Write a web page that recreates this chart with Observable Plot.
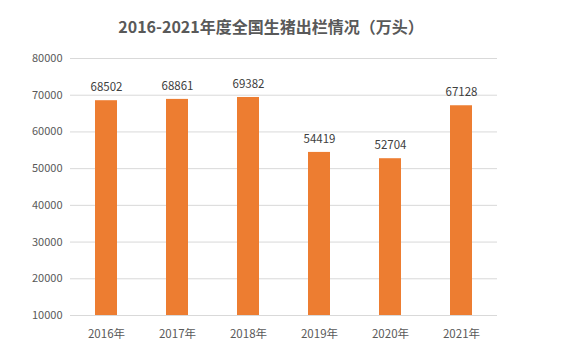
<!DOCTYPE html>
<html>
<head>
<meta charset="utf-8">
<script src="https://cdn.jsdelivr.net/npm/d3@7"></script>
<script src="https://cdn.jsdelivr.net/npm/@observablehq/plot@0.6"></script>
<style>
  html, body { margin: 0; padding: 0; background: #fff; }
  #wrap { position: relative; width: 569px; height: 352px; overflow: hidden; }
  #title { position: absolute; left: 0; width: 542px; top: 15px; text-align: center;
    font-family: "Noto Sans CJK SC", "Noto Sans", sans-serif; font-weight: bold; font-size: 16px; color: #595959; line-height: 22px; }
  svg { font-family: "Noto Sans CJK SC", "Noto Sans", sans-serif; }
</style>
</head>
<body>
<div id="wrap">
  <div id="title">2016-2021年度全国生猪出栏情况（万头）</div>
  <div id="chart"></div>
</div>
<script>
const years = ["2016年", "2017年", "2018年", "2019年", "2020年", "2021年"];
const values = [68502, 68861, 69382, 54419, 52704, 67128];
const yTicks = [10000, 20000, 30000, 40000, 50000, 60000, 70000, 80000];

const data = years.map((y, i) => ({year: y, value: values[i]}));

const chart = Plot.plot({
  width: 569,
  height: 352,
  marginLeft: 70,
  marginRight: 72,
  marginTop: 58,
  marginBottom: 37,
  style: {background: "transparent", fontSize: "11px"},
  x: {domain: years, paddingInner: 0.69, paddingOuter: 0.345, label: null},
  y: {domain: [10000, 80000], label: null},
  marks: [
    Plot.ruleY(yTicks, {stroke: "#d9d9d9", strokeWidth: 1}),
    Plot.barY(data, {x: "year", y1: 10000, y2: "value", fill: "#ed7d31"}),
    Plot.text(data, {x: "year", y: "value", text: d => String(d.value), dy: -13, fill: "#404040", fontSize: 11.5}),
    Plot.axisY(yTicks, {tickSize: 0, tickPadding: 8, tickFormat: d => String(d), color: "#595959", fontSize: 11, label: null}),
    Plot.axisX({tickSize: 0, tickPadding: 14, color: "#595959", fontSize: 11.5, label: null})
  ]
});
document.getElementById("chart").appendChild(chart);
</script>
</body>
</html>
